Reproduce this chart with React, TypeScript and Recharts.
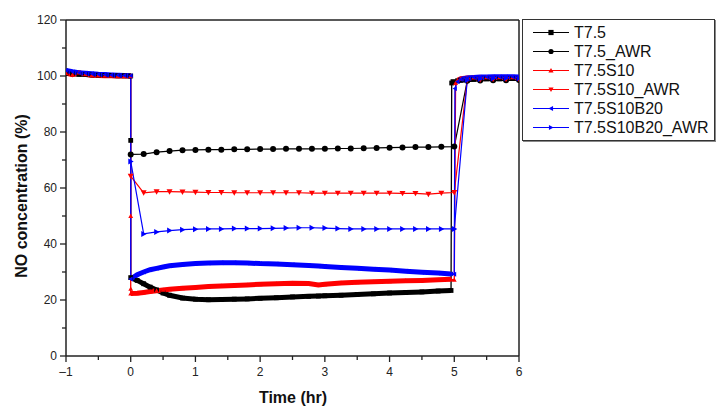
import { LineChart, Line, XAxis, YAxis, ReferenceLine } from "recharts"

// time grids (hr)
const preTime = [-1, -0.9, -0.8, -0.7, -0.6, -0.5, -0.4, -0.3, -0.2, -0.1, 0]
const runTime = [0, 0.1, 0.2, 0.3, 0.4, 0.5, 0.6, 0.8, 1.0, 1.2, 1.4, 1.6, 1.8, 2.0, 2.25, 2.5, 2.75, 2.9, 3.0, 3.25, 3.5, 3.75, 4.0, 4.25, 4.5, 4.75, 4.95]
const postTime = [5.05, 5.1, 5.2, 5.3, 5.4, 5.5, 5.6, 5.7, 5.8, 5.9, 6.0]
const awrTime = [0, 0.2, 0.4, 0.6, 0.8, 1.0, 1.2, 1.4, 1.6, 1.8, 2.0, 2.2, 2.4, 2.6, 2.8, 3.0, 3.2, 3.4, 3.6, 3.8, 4.0, 4.2, 4.4, 4.6, 4.8, 5.0, 5.2, 5.4, 5.6, 5.8, 6.0]

// T7.5
const t75Pre = [101, 100.8, 100.6, 100.5, 100.4, 100.3, 100.2, 100.2, 100.1, 100.1, 100]
const t75Drop = [77]
const t75Run = [28, 27, 25.8, 24.6, 23.6, 22.5, 21.7, 20.7, 20.3, 20.1, 20.2, 20.3, 20.4, 20.6, 20.8, 21.1, 21.3, 21.4, 21.5, 21.7, 22.0, 22.2, 22.5, 22.7, 22.9, 23.2, 23.4]
const t75RiseTime = [4.96, 4.98]
const t75Rise = [97.5, 98]
const t75Post = [98.3, 98.5, 98.7, 98.8, 98.9, 99, 99, 99, 99.1, 99.1, 99.1]

// T7.5S10
const s10Pre = [101, 100.5, 101.2, 100.6, 100.3, 100.2, 100.1, 100.1, 100, 100, 100]
const s10Drop = [50, 24]
const s10Run = [22.3, 22.4, 22.7, 23, 23.3, 23.6, 23.8, 24.2, 24.5, 24.8, 25, 25.2, 25.4, 25.6, 25.8, 26, 25.9, 25.4, 25.6, 26.1, 26.3, 26.5, 26.7, 26.9, 27.0, 27.2, 27.4]
const s10RiseTime = [5.0, 5.02]
const s10Rise = [27.2, 97.5]
const s10Post = [98.5, 99, 99.3, 99.4, 99.5, 99.5, 99.5, 99.5, 99.5, 99.5, 99.4]

// T7.5S10B20
const b20Pre = [102, 101.5, 101.2, 101, 100.8, 100.6, 100.5, 100.4, 100.3, 100.2, 100.1]
const b20Drop: number[] = []
const b20Run = [27.5, 29, 30, 30.8, 31.3, 31.8, 32.2, 32.7, 33, 33.2, 33.3, 33.3, 33.2, 33, 32.9, 32.6, 32.3, 32.1, 32, 31.6, 31.3, 31, 30.7, 30.3, 29.9, 29.6, 29.3]
const b20RiseTime = [5.0, 5.01]
const b20Rise = [29.2, 95.5]
const b20Post = [98, 98.8, 99.3, 99.5, 99.6, 99.6, 99.7, 99.7, 99.7, 99.7, 99.6]

// AWR runs
const t75Awr = [72, 72.1, 72.8, 73.2, 73.5, 73.6, 73.7, 73.7, 73.8, 73.8, 73.9, 73.9, 74, 74, 74, 74, 74.1, 74.1, 74.2, 74.3, 74.4, 74.5, 74.6, 74.6, 74.7, 74.8, 98.3, 98.4, 98.5, 98.5, 98.6]
const s10Awr = [64.2, 58.3, 58.7, 58.7, 58.6, 58.5, 58.4, 58.4, 58.3, 58.3, 58.3, 58.3, 58.3, 58.3, 58.2, 58.2, 58.2, 58.2, 58.2, 58.2, 58.2, 58.1, 58.1, 57.8, 58.2, 58.4, 98.5, 98.7, 98.8, 98.8, 98.8]
const b20Awr = [69.5, 43.6, 44.3, 44.8, 45.1, 45.3, 45.4, 45.4, 45.5, 45.5, 45.5, 45.6, 45.7, 45.8, 45.8, 45.7, 45.5, 45.4, 45.4, 45.4, 45.4, 45.4, 45.4, 45.4, 45.4, 45.4, 98.5, 98.9, 99.1, 99.2, 99.2]

const xTicks = [-1, -0.5, 0, 0.5, 1, 1.5, 2, 2.5, 3, 3.5, 4, 4.5, 5, 5.5, 6]
const yTicks = [0, 10, 20, 30, 40, 50, 60, 70, 80, 90, 100, 110, 120]

const FONT = "'Liberation Sans', Arial, sans-serif"
const AXIS = "#222"

type Pt = { t: number; v: number | null }
const pts = (ts: number[], vs: number[]): Pt[] => vs.map((v, i) => ({ t: ts[i], v }))

function buildDense(pre: number[], drop: number[], run: number[], riseT: number[], rise: number[], post: number[]) {
  const thin = [
    ...pts(preTime, pre),
    ...drop.map((v) => ({ t: 0, v })),
    ...pts(runTime, run),
    ...pts(riseT, rise),
    ...pts(postTime, post),
  ]
  const thick = [
    ...pts(preTime, pre),
    { t: 0, v: null },
    ...pts(runTime, run),
    { t: 5, v: null },
    ...pts(postTime, post),
  ]
  return { thin, thick }
}

const SERIES = [
  { name: "T7.5", color: "#000000", shape: "square", dense: buildDense(t75Pre, t75Drop, t75Run, t75RiseTime, t75Rise, t75Post) },
  { name: "T7.5_AWR", color: "#000000", shape: "circle", awr: pts(awrTime, t75Awr) },
  { name: "T7.5S10", color: "#ff0000", shape: "up", dense: buildDense(s10Pre, s10Drop, s10Run, s10RiseTime, s10Rise, s10Post) },
  { name: "T7.5S10_AWR", color: "#ff0000", shape: "down", awr: pts(awrTime, s10Awr) },
  { name: "T7.5S10B20", color: "#0000ff", shape: "left", dense: buildDense(b20Pre, b20Drop, b20Run, b20RiseTime, b20Rise, b20Post) },
  { name: "T7.5S10B20_AWR", color: "#0000ff", shape: "right", awr: pts(awrTime, b20Awr) },
] as any[]

function Marker({ shape, cx, cy, s, color }: { shape: string; cx: number; cy: number; s: number; color: string }) {
  if (shape === "square") return <rect x={cx - s} y={cy - s} width={2 * s} height={2 * s} fill={color} />
  if (shape === "circle") return <circle cx={cx} cy={cy} r={s} fill={color} />
  let p = ""
  if (shape === "up") p = `${cx},${cy - s} ${cx - s},${cy + s * 0.8} ${cx + s},${cy + s * 0.8}`
  if (shape === "down") p = `${cx},${cy + s} ${cx - s},${cy - s * 0.8} ${cx + s},${cy - s * 0.8}`
  if (shape === "left") p = `${cx - s},${cy} ${cx + s * 0.8},${cy - s} ${cx + s * 0.8},${cy + s}`
  if (shape === "right") p = `${cx + s},${cy} ${cx - s * 0.8},${cy - s} ${cx - s * 0.8},${cy + s}`
  return <polygon points={p} fill={color} />
}

const dotFor = (shape: string, color: string, s: number) => (props: any) => {
  const { cx, cy, index } = props
  if (cx == null || cy == null || Number.isNaN(cy)) return <g key={`e${index}`} />
  return (
    <g key={`d${index}`}>
      <Marker shape={shape} cx={cx} cy={cy} s={s} color={color} />
    </g>
  )
}

const XTick = (props: any) => {
  const { x, y, payload } = props
  const major = Number.isInteger(payload.value)
  const label = payload.value < 0 ? `\u2013${Math.abs(payload.value)}` : `${payload.value}`
  return (
    <g>
      <line x1={x} x2={x} y1={y} y2={y + (major ? 6 : 4)} stroke={AXIS} strokeWidth={1.3} />
      {major && (
        <text x={x} y={y + 20} textAnchor="middle" fontSize={12} fill={AXIS} fontFamily={FONT}>
          {label}
        </text>
      )}
    </g>
  )
}

const YTick = (props: any) => {
  const { x, y, payload } = props
  const major = payload.value % 20 === 0
  return (
    <g>
      <line x1={x - (major ? 6 : 4)} x2={x} y1={y} y2={y} stroke={AXIS} strokeWidth={1.3} />
      {major && (
        <text x={x - 9} y={y + 4} textAnchor="end" fontSize={12} fill={AXIS} fontFamily={FONT}>
          {payload.value}
        </text>
      )}
    </g>
  )
}

function LegendBox() {
  return (
    <div
      style={{
        position: "absolute",
        left: 522,
        top: 19,
        width: 191,
        height: 117,
        border: "1px solid #333",
        boxShadow: "1px 1px 0 #888",
        background: "#fff",
        paddingTop: 3,
        boxSizing: "content-box",
        fontFamily: FONT,
      }}
    >
      {SERIES.map((s) => (
        <div key={s.name} style={{ display: "flex", alignItems: "center", height: 19 }}>
          <svg width={52} height={19} style={{ marginLeft: 10 }}>
            <line x1={0} x2={36} y1={9.5} y2={9.5} stroke={s.color} strokeWidth={1.2} />
            <Marker shape={s.shape} cx={18} cy={9.5} s={2.6} color={s.color} />
          </svg>
          <span style={{ fontSize: 16, color: "#111", marginLeft: -11, whiteSpace: "nowrap" }}>{s.name}</span>
        </div>
      ))}
    </div>
  )
}

export default function App() {
  return (
    <div style={{ position: "absolute", left: 0, top: 0, width: 723, height: 416, background: "#fff" }}>
      <LineChart width={723} height={416} margin={{ top: 20, right: 204, bottom: 0, left: 0 }}>
        <XAxis
          dataKey="t"
          type="number"
          domain={[-1, 6]}
          ticks={xTicks}
          allowDataOverflow
          height={60}
          tickSize={0}
          tickMargin={0}
          tickLine={false}
          tick={<XTick />}
          axisLine={{ stroke: AXIS, strokeWidth: 1.5 }}
          label={{
            content: () => (
              <text x={293} y={403} textAnchor="middle" fontSize={16} fontWeight="bold" fill="#111" fontFamily={FONT}>
                Time (hr)
              </text>
            ),
          }}
        />
        <YAxis
          dataKey="v"
          type="number"
          domain={[0, 120]}
          ticks={yTicks}
          allowDataOverflow
          width={66}
          tickSize={0}
          tickMargin={0}
          tickLine={false}
          tick={<YTick />}
          axisLine={{ stroke: AXIS, strokeWidth: 1.5 }}
          label={{
            content: () => (
              <text
                x={21}
                y={196}
                transform="rotate(-90 21 196)"
                textAnchor="middle"
                dominantBaseline="central"
                fontSize={16}
                fontWeight="bold"
                fill="#111"
                fontFamily={FONT}
              >
                NO concentration (%)
              </text>
            ),
          }}
        />
        <ReferenceLine y={120} stroke={AXIS} strokeWidth={1.5} />
        <ReferenceLine x={6} stroke={AXIS} strokeWidth={1.5} />
        {SERIES.map((s) =>
          s.dense
            ? [
                <Line
                  key={`${s.name}-thick`}
                  data={s.dense.thick}
                  dataKey="v"
                  type="linear"
                  stroke={s.color}
                  strokeWidth={5}
                  dot={false}
                  activeDot={false}
                  legendType="none"
                  isAnimationActive={false}
                />,
                <Line
                  key={`${s.name}-thin`}
                  data={s.dense.thin}
                  dataKey="v"
                  name={s.name}
                  type="linear"
                  stroke={s.color}
                  strokeWidth={1.3}
                  dot={dotFor(s.shape, s.color, 2.4)}
                  activeDot={false}
                  isAnimationActive={false}
                />,
              ]
            : (
                <Line
                  key={s.name}
                  data={s.awr}
                  dataKey="v"
                  name={s.name}
                  type="linear"
                  stroke={s.color}
                  strokeWidth={1.2}
                  dot={dotFor(s.shape, s.color, 3)}
                  activeDot={false}
                  isAnimationActive={false}
                />
              )
        )}
      </LineChart>
      <LegendBox />
    </div>
  )
}
